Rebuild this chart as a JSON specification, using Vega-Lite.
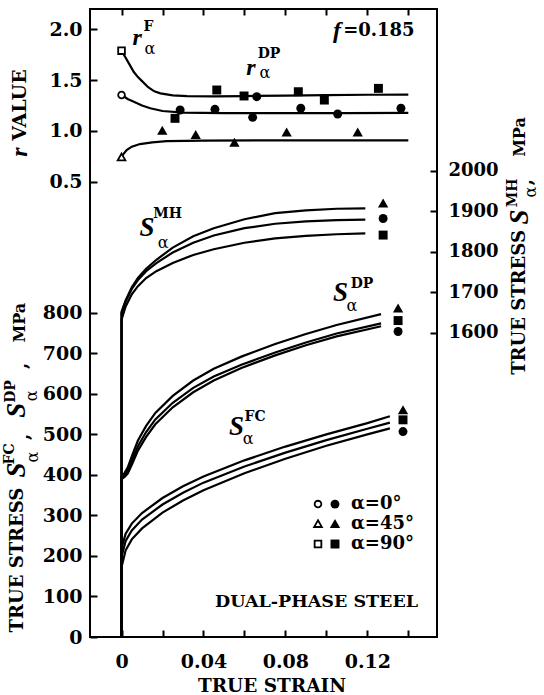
{
  "$schema": "https://vega.github.io/schema/vega-lite/v6.json",
  "autosize": {"type": "none"},
  "width": 347,
  "height": 628,
  "padding": {"left": 90, "top": 9, "right": 107, "bottom": 58},
  "background": "white",
  "config": {
    "view": {"stroke": "black", "strokeWidth": 2},
    "axis": {"domain": false, "grid": false, "ticks": true, "tickColor": "black", "tickWidth": 2, "tickSize": -7,
      "labelFont": "DejaVu Serif", "labelFontSize": 19, "labelFontWeight": "bold", "labelColor": "black", "labelPadding": 15},
    "text": {"font": "DejaVu Serif", "fontWeight": "bold", "fontSize": 18, "color": "black"}
  },
  "datasets": {
    "rcurve": [
      {"curve": "90", "strain": 0, "r": 1.79}, {"curve": "90", "strain": 0.002, "r": 1.72}, {"curve": "90", "strain": 0.004, "r": 1.65},
      {"curve": "90", "strain": 0.006, "r": 1.58}, {"curve": "90", "strain": 0.008, "r": 1.53}, {"curve": "90", "strain": 0.01, "r": 1.49},
      {"curve": "90", "strain": 0.013, "r": 1.43}, {"curve": "90", "strain": 0.016, "r": 1.39}, {"curve": "90", "strain": 0.019, "r": 1.37},
      {"curve": "90", "strain": 0.025, "r": 1.35}, {"curve": "90", "strain": 0.032, "r": 1.342}, {"curve": "90", "strain": 0.045, "r": 1.34},
      {"curve": "90", "strain": 0.06, "r": 1.343}, {"curve": "90", "strain": 0.08, "r": 1.348}, {"curve": "90", "strain": 0.1, "r": 1.352},
      {"curve": "90", "strain": 0.12, "r": 1.356}, {"curve": "90", "strain": 0.14, "r": 1.358},
      {"curve": "0", "strain": 0, "r": 1.354}, {"curve": "0", "strain": 0.003, "r": 1.315}, {"curve": "0", "strain": 0.006, "r": 1.288},
      {"curve": "0", "strain": 0.01, "r": 1.25}, {"curve": "0", "strain": 0.014, "r": 1.223}, {"curve": "0", "strain": 0.02, "r": 1.196},
      {"curve": "0", "strain": 0.03, "r": 1.18}, {"curve": "0", "strain": 0.05, "r": 1.175}, {"curve": "0", "strain": 0.08, "r": 1.175},
      {"curve": "0", "strain": 0.11, "r": 1.176}, {"curve": "0", "strain": 0.14, "r": 1.177},
      {"curve": "45", "strain": 0, "r": 0.74}, {"curve": "45", "strain": 0.001, "r": 0.775}, {"curve": "45", "strain": 0.0025, "r": 0.812},
      {"curve": "45", "strain": 0.005, "r": 0.845}, {"curve": "45", "strain": 0.009, "r": 0.871}, {"curve": "45", "strain": 0.015, "r": 0.888},
      {"curve": "45", "strain": 0.022, "r": 0.899}, {"curve": "45", "strain": 0.04, "r": 0.905}, {"curve": "45", "strain": 0.08, "r": 0.907},
      {"curve": "45", "strain": 0.14, "r": 0.908}
    ],
    "ropen": [
      {"alpha": "90", "strain": 0, "r": 1.79}, {"alpha": "0", "strain": 0, "r": 1.354}, {"alpha": "45", "strain": 0, "r": 0.74}
    ],
    "rpts": [
      {"alpha": "90", "strain": 0.0261, "r": 1.124}, {"alpha": "90", "strain": 0.0465, "r": 1.403}, {"alpha": "90", "strain": 0.0598, "r": 1.344},
      {"alpha": "90", "strain": 0.0863, "r": 1.386}, {"alpha": "90", "strain": 0.099, "r": 1.304}, {"alpha": "90", "strain": 0.1254, "r": 1.419},
      {"alpha": "0", "strain": 0.0286, "r": 1.206}, {"alpha": "0", "strain": 0.0456, "r": 1.213}, {"alpha": "0", "strain": 0.064, "r": 1.134},
      {"alpha": "0", "strain": 0.066, "r": 1.337}, {"alpha": "0", "strain": 0.0875, "r": 1.223}, {"alpha": "0", "strain": 0.1055, "r": 1.167},
      {"alpha": "0", "strain": 0.1364, "r": 1.223},
      {"alpha": "45", "strain": 0.0199, "r": 1.002}, {"alpha": "45", "strain": 0.0362, "r": 0.96}, {"alpha": "45", "strain": 0.0551, "r": 0.884},
      {"alpha": "45", "strain": 0.0806, "r": 0.986}, {"alpha": "45", "strain": 0.1153, "r": 0.986}
    ],
    "scurve": [
      {"curve": "FC45", "strain": 0, "stress": 0}, {"curve": "FC45", "strain": 0, "stress": 219}, {"curve": "FC45", "strain": 0.002, "stress": 255},
      {"curve": "FC45", "strain": 0.005, "stress": 280}, {"curve": "FC45", "strain": 0.01, "stress": 306}, {"curve": "FC45", "strain": 0.02, "stress": 343},
      {"curve": "FC45", "strain": 0.03, "stress": 372}, {"curve": "FC45", "strain": 0.04, "stress": 396}, {"curve": "FC45", "strain": 0.06, "stress": 436},
      {"curve": "FC45", "strain": 0.08, "stress": 470}, {"curve": "FC45", "strain": 0.1, "stress": 500}, {"curve": "FC45", "strain": 0.12, "stress": 528},
      {"curve": "FC45", "strain": 0.131, "stress": 545},
      {"curve": "FC90", "strain": 0, "stress": 0}, {"curve": "FC90", "strain": 0, "stress": 198}, {"curve": "FC90", "strain": 0.002, "stress": 237},
      {"curve": "FC90", "strain": 0.005, "stress": 263}, {"curve": "FC90", "strain": 0.01, "stress": 290}, {"curve": "FC90", "strain": 0.02, "stress": 327},
      {"curve": "FC90", "strain": 0.03, "stress": 356}, {"curve": "FC90", "strain": 0.04, "stress": 381}, {"curve": "FC90", "strain": 0.06, "stress": 421},
      {"curve": "FC90", "strain": 0.08, "stress": 455}, {"curve": "FC90", "strain": 0.1, "stress": 486}, {"curve": "FC90", "strain": 0.12, "stress": 514},
      {"curve": "FC90", "strain": 0.131, "stress": 529},
      {"curve": "FC0", "strain": 0, "stress": 0}, {"curve": "FC0", "strain": 0, "stress": 173}, {"curve": "FC0", "strain": 0.002, "stress": 214},
      {"curve": "FC0", "strain": 0.005, "stress": 241}, {"curve": "FC0", "strain": 0.01, "stress": 268}, {"curve": "FC0", "strain": 0.02, "stress": 307},
      {"curve": "FC0", "strain": 0.03, "stress": 337}, {"curve": "FC0", "strain": 0.04, "stress": 362}, {"curve": "FC0", "strain": 0.06, "stress": 404},
      {"curve": "FC0", "strain": 0.08, "stress": 440}, {"curve": "FC0", "strain": 0.1, "stress": 472}, {"curve": "FC0", "strain": 0.12, "stress": 500},
      {"curve": "FC0", "strain": 0.131, "stress": 515},
      {"curve": "DP45", "strain": 0, "stress": 0}, {"curve": "DP45", "strain": 0, "stress": 395}, {"curve": "DP45", "strain": 0.0015, "stress": 405},
      {"curve": "DP45", "strain": 0.003, "stress": 418}, {"curve": "DP45", "strain": 0.005, "stress": 446}, {"curve": "DP45", "strain": 0.008, "stress": 485},
      {"curve": "DP45", "strain": 0.012, "stress": 521}, {"curve": "DP45", "strain": 0.0165, "stress": 553}, {"curve": "DP45", "strain": 0.025, "stress": 595},
      {"curve": "DP45", "strain": 0.035, "stress": 633}, {"curve": "DP45", "strain": 0.045, "stress": 662}, {"curve": "DP45", "strain": 0.0585, "stress": 692},
      {"curve": "DP45", "strain": 0.075, "stress": 723}, {"curve": "DP45", "strain": 0.09, "stress": 748}, {"curve": "DP45", "strain": 0.105, "stress": 770},
      {"curve": "DP45", "strain": 0.1267, "stress": 797},
      {"curve": "DP90", "strain": 0, "stress": 0}, {"curve": "DP90", "strain": 0, "stress": 393}, {"curve": "DP90", "strain": 0.0015, "stress": 400},
      {"curve": "DP90", "strain": 0.003, "stress": 410}, {"curve": "DP90", "strain": 0.005, "stress": 435}, {"curve": "DP90", "strain": 0.008, "stress": 471},
      {"curve": "DP90", "strain": 0.012, "stress": 506}, {"curve": "DP90", "strain": 0.0165, "stress": 537}, {"curve": "DP90", "strain": 0.025, "stress": 578},
      {"curve": "DP90", "strain": 0.035, "stress": 615}, {"curve": "DP90", "strain": 0.045, "stress": 643}, {"curve": "DP90", "strain": 0.0585, "stress": 672},
      {"curve": "DP90", "strain": 0.075, "stress": 702}, {"curve": "DP90", "strain": 0.09, "stress": 727}, {"curve": "DP90", "strain": 0.105, "stress": 749},
      {"curve": "DP90", "strain": 0.1267, "stress": 774},
      {"curve": "DP0", "strain": 0, "stress": 0}, {"curve": "DP0", "strain": 0, "stress": 390}, {"curve": "DP0", "strain": 0.0015, "stress": 395},
      {"curve": "DP0", "strain": 0.003, "stress": 403}, {"curve": "DP0", "strain": 0.005, "stress": 425}, {"curve": "DP0", "strain": 0.008, "stress": 460},
      {"curve": "DP0", "strain": 0.012, "stress": 494}, {"curve": "DP0", "strain": 0.0165, "stress": 525}, {"curve": "DP0", "strain": 0.025, "stress": 567},
      {"curve": "DP0", "strain": 0.035, "stress": 604}, {"curve": "DP0", "strain": 0.045, "stress": 633}, {"curve": "DP0", "strain": 0.0585, "stress": 664},
      {"curve": "DP0", "strain": 0.075, "stress": 695}, {"curve": "DP0", "strain": 0.09, "stress": 720}, {"curve": "DP0", "strain": 0.105, "stress": 742},
      {"curve": "DP0", "strain": 0.1267, "stress": 767}
    ],
    "spts": [
      {"alpha": "45", "strain": 0.1374, "stress": 560}, {"alpha": "90", "strain": 0.1374, "stress": 536}, {"alpha": "0", "strain": 0.1374, "stress": 507},
      {"alpha": "45", "strain": 0.135, "stress": 811}, {"alpha": "90", "strain": 0.135, "stress": 781}, {"alpha": "0", "strain": 0.135, "stress": 754}
    ],
    "mhcurve": [
      {"curve": "MH45", "strain": 0, "mh": 850}, {"curve": "MH45", "strain": 0, "mh": 1652}, {"curve": "MH45", "strain": 0.002, "mh": 1680},
      {"curve": "MH45", "strain": 0.005, "mh": 1712}, {"curve": "MH45", "strain": 0.008, "mh": 1735}, {"curve": "MH45", "strain": 0.012, "mh": 1758},
      {"curve": "MH45", "strain": 0.017, "mh": 1780}, {"curve": "MH45", "strain": 0.025, "mh": 1810}, {"curve": "MH45", "strain": 0.035, "mh": 1838},
      {"curve": "MH45", "strain": 0.045, "mh": 1858}, {"curve": "MH45", "strain": 0.06, "mh": 1880}, {"curve": "MH45", "strain": 0.075, "mh": 1895},
      {"curve": "MH45", "strain": 0.09, "mh": 1902}, {"curve": "MH45", "strain": 0.105, "mh": 1906}, {"curve": "MH45", "strain": 0.119, "mh": 1907},
      {"curve": "MH0", "strain": 0, "mh": 850}, {"curve": "MH0", "strain": 0, "mh": 1648}, {"curve": "MH0", "strain": 0.002, "mh": 1677},
      {"curve": "MH0", "strain": 0.005, "mh": 1708}, {"curve": "MH0", "strain": 0.008, "mh": 1730}, {"curve": "MH0", "strain": 0.012, "mh": 1752},
      {"curve": "MH0", "strain": 0.017, "mh": 1772}, {"curve": "MH0", "strain": 0.025, "mh": 1798}, {"curve": "MH0", "strain": 0.035, "mh": 1822},
      {"curve": "MH0", "strain": 0.045, "mh": 1840}, {"curve": "MH0", "strain": 0.06, "mh": 1858}, {"curve": "MH0", "strain": 0.075, "mh": 1869},
      {"curve": "MH0", "strain": 0.09, "mh": 1875}, {"curve": "MH0", "strain": 0.105, "mh": 1878}, {"curve": "MH0", "strain": 0.119, "mh": 1879},
      {"curve": "MH90", "strain": 0, "mh": 850}, {"curve": "MH90", "strain": 0, "mh": 1632}, {"curve": "MH90", "strain": 0.002, "mh": 1665},
      {"curve": "MH90", "strain": 0.005, "mh": 1695}, {"curve": "MH90", "strain": 0.008, "mh": 1715}, {"curve": "MH90", "strain": 0.012, "mh": 1735},
      {"curve": "MH90", "strain": 0.017, "mh": 1752}, {"curve": "MH90", "strain": 0.025, "mh": 1772}, {"curve": "MH90", "strain": 0.035, "mh": 1792},
      {"curve": "MH90", "strain": 0.045, "mh": 1806}, {"curve": "MH90", "strain": 0.06, "mh": 1822}, {"curve": "MH90", "strain": 0.075, "mh": 1833},
      {"curve": "MH90", "strain": 0.09, "mh": 1839}, {"curve": "MH90", "strain": 0.105, "mh": 1843}, {"curve": "MH90", "strain": 0.119, "mh": 1845}
    ],
    "mhpts": [
      {"alpha": "45", "strain": 0.1277, "mh": 1919}, {"alpha": "0", "strain": 0.1277, "mh": 1882}, {"alpha": "90", "strain": 0.1277, "mh": 1841}
    ],
    "legendpts": [
      {"alpha": "0", "strain": 0.0959, "stress": 328, "kind": "open"}, {"alpha": "0", "strain": 0.1042, "stress": 328, "kind": "filled"},
      {"alpha": "45", "strain": 0.0959, "stress": 279, "kind": "open"}, {"alpha": "45", "strain": 0.1042, "stress": 279, "kind": "filled"},
      {"alpha": "90", "strain": 0.0959, "stress": 229.5, "kind": "open"}, {"alpha": "90", "strain": 0.1042, "stress": 229.5, "kind": "filled"}
    ]
  },
  "layer": [
    {
      "encoding": {
        "x": {"field": "strain", "type": "quantitative", "scale": {"domain": [-0.0154, 0.154], "nice": false, "zero": false},
          "axis": {"orient": "top", "values": [0, 0.02, 0.04, 0.06, 0.08, 0.1, 0.12, 0.14], "labels": false, "title": null, "tickSize": -6}},
        "y": {"field": "r", "type": "quantitative", "scale": {"domain": [-3.98, 2.2], "nice": false, "zero": false},
          "axis": {"orient": "left", "values": [0.5, 1, 1.5, 2], "format": ".1f", "title": null}}
      },
      "layer": [
        {"data": {"name": "rcurve"}, "mark": {"type": "line", "color": "black", "strokeWidth": 2.2}, "encoding": {"detail": {"field": "curve"}, "order": {"value": null}}},
        {"data": {"name": "ropen"}, "mark": {"type": "point", "filled": false, "fill": "white", "color": "black", "strokeWidth": 1.8, "size": 45, "opacity": 1},
          "encoding": {"shape": {"field": "alpha", "type": "nominal", "scale": {"domain": ["0", "45", "90"], "range": ["circle", "M0,-1.1L1.15,0.9L-1.15,0.9Z", "square"]}, "legend": null}}},
        {"data": {"name": "rpts"}, "mark": {"type": "point", "filled": true, "color": "black", "size": 80, "opacity": 1},
          "encoding": {"shape": {"field": "alpha", "type": "nominal", "scale": {"domain": ["0", "45", "90"], "range": ["circle", "M0,-1.1L1.15,0.9L-1.15,0.9Z", "square"]}, "legend": null}}},
        {"data": {"values": [{"strain": 0.0076, "r": 1.915, "t": "r"}, {"strain": 0.0632, "r": 1.619, "t": "r"}, {"strain": 0.1052, "r": 1.979, "t": "f"}]},
          "mark": {"type": "text", "font": "Liberation Serif", "fontStyle": "italic", "fontSize": 24, "baseline": "middle"}, "encoding": {"text": {"field": "t"}}},
        {"data": {"values": [{"strain": 0.0132, "r": 2.018, "t": "F"}, {"strain": 0.072, "r": 1.757, "t": "DP"}]},
          "mark": {"type": "text", "fontSize": 14, "baseline": "middle"}, "encoding": {"text": {"field": "t"}}},
        {"data": {"values": [{"strain": 0.0139, "r": 1.806, "t": "α"}, {"strain": 0.07, "r": 1.57, "t": "α"}]},
          "mark": {"type": "text", "fontWeight": "normal", "fontSize": 16, "baseline": "middle"}, "encoding": {"text": {"field": "t"}}},
        {"data": {"values": [{"strain": 0.1082, "r": 1.979, "t": "=0.185"}]},
          "mark": {"type": "text", "fontSize": 18, "align": "left", "baseline": "middle"}, "encoding": {"text": {"field": "t"}}},
        {"data": {"values": [{"strain": -0.0496, "r": 1.255, "t": "VALUE"}]},
          "mark": {"type": "text", "fontSize": 19, "angle": 270, "baseline": "middle"}, "encoding": {"text": {"field": "t"}}},
        {"data": {"values": [{"strain": -0.0496, "r": 0.792, "t": "r"}]},
          "mark": {"type": "text", "font": "Liberation Serif", "fontStyle": "italic", "fontSize": 24, "angle": 270, "baseline": "middle"}, "encoding": {"text": {"field": "t"}}}
      ]
    },
    {
      "encoding": {
        "x": {"field": "strain", "type": "quantitative", "scale": {"domain": [-0.0154, 0.154], "nice": false, "zero": false},
          "axis": {"orient": "bottom", "values": [0, 0.02, 0.04, 0.06, 0.08, 0.1, 0.12, 0.14], "tickSize": -7, "labelPadding": 22,
            "labelExpr": "(round(datum.value*50) % 2 == 0 && datum.value < 0.13) ? (datum.value == 0 ? '0' : format(datum.value, '.2f')) : ''",
            "title": "TRUE STRAIN", "titleFont": "DejaVu Serif", "titleFontSize": 18.5, "titleFontWeight": "bold", "titleColor": "black",
            "titleX": 181.5, "titleY": 48, "titleBaseline": "middle", "titleAlign": "center"}},
        "y": {"field": "stress", "type": "quantitative", "scale": {"domain": [0, 1550], "nice": false, "zero": false},
          "axis": {"orient": "left", "values": [0, 100, 200, 300, 400, 500, 600, 700, 800], "title": null}}
      },
      "layer": [
        {"data": {"name": "scurve"}, "mark": {"type": "line", "color": "black", "strokeWidth": 2.2}, "encoding": {"detail": {"field": "curve"}, "order": {"value": null}}},
        {"data": {"name": "spts"}, "mark": {"type": "point", "filled": true, "color": "black", "size": 80, "opacity": 1},
          "encoding": {"shape": {"field": "alpha", "type": "nominal", "scale": {"domain": ["0", "45", "90"], "range": ["circle", "M0,-1.1L1.15,0.9L-1.15,0.9Z", "square"]}, "legend": null}}},
        {"data": {"name": "legendpts"}, "transform": [{"filter": "datum.kind == 'open'"}], "mark": {"type": "point", "filled": false, "color": "black", "strokeWidth": 1.8, "size": 45, "opacity": 1},
          "encoding": {"shape": {"field": "alpha", "type": "nominal", "scale": {"domain": ["0", "45", "90"], "range": ["circle", "M0,-1.1L1.15,0.9L-1.15,0.9Z", "square"]}, "legend": null}}},
        {"data": {"name": "legendpts"}, "transform": [{"filter": "datum.kind == 'filled'"}], "mark": {"type": "point", "filled": true, "color": "black", "size": 80, "opacity": 1},
          "encoding": {"shape": {"field": "alpha", "type": "nominal", "scale": {"domain": ["0", "45", "90"], "range": ["circle", "M0,-1.1L1.15,0.9L-1.15,0.9Z", "square"]}, "legend": null}}},
        {"data": {"values": [{"strain": 0.112, "stress": 328, "t": "α=0°"}, {"strain": 0.112, "stress": 279, "t": "α=45°"}, {"strain": 0.112, "stress": 229.5, "t": "α=90°"}]},
          "mark": {"type": "text", "fontSize": 18, "align": "left", "baseline": "middle"}, "encoding": {"text": {"field": "t"}}},
        {"data": {"values": [{"strain": 0.0952, "stress": 87.6, "t": "DUAL-PHASE STEEL"}]},
          "mark": {"type": "text", "fontSize": 17.5, "baseline": "middle"}, "encoding": {"text": {"field": "t"}}},
        {"data": {"values": [{"strain": 0.0561, "stress": 518, "t": "S"}, {"strain": 0.1069, "stress": 849, "t": "S"}]},
          "mark": {"type": "text", "font": "Liberation Serif", "fontStyle": "italic", "fontSize": 27, "baseline": "middle"}, "encoding": {"text": {"field": "t"}}},
        {"data": {"values": [{"strain": 0.0652, "stress": 544, "t": "FC"}, {"strain": 0.1174, "stress": 872, "t": "DP"}]},
          "mark": {"type": "text", "fontSize": 14, "baseline": "middle"}, "encoding": {"text": {"field": "t"}}},
        {"data": {"values": [{"strain": 0.0618, "stress": 488, "t": "α"}, {"strain": 0.1125, "stress": 816, "t": "α"}]},
          "mark": {"type": "text", "fontWeight": "normal", "fontSize": 16, "baseline": "middle"}, "encoding": {"text": {"field": "t"}}},
        {"data": {"values": [{"strain": -0.0505, "stress": 190, "t": "TRUE STRESS"}, {"strain": -0.0476, "stress": 494, "t": ","}, {"strain": -0.0486, "stress": 669, "t": ","}]},
          "mark": {"type": "text", "fontSize": 18, "angle": 270, "baseline": "middle"}, "encoding": {"text": {"field": "t"}}},
        {"data": {"values": [{"strain": -0.0498, "stress": 776, "t": "MPa"}]},
          "mark": {"type": "text", "fontSize": 16, "angle": 270, "baseline": "middle"}, "encoding": {"text": {"field": "t"}}},
        {"data": {"values": [{"strain": -0.051, "stress": 412, "t": "S"}, {"strain": -0.051, "stress": 560, "t": "S"}]},
          "mark": {"type": "text", "font": "Liberation Serif", "fontStyle": "italic", "fontSize": 27, "angle": 270, "baseline": "middle"}, "encoding": {"text": {"field": "t"}}},
        {"data": {"values": [{"strain": -0.0544, "stress": 452, "t": "FC"}, {"strain": -0.054, "stress": 606, "t": "DP"}]},
          "mark": {"type": "text", "fontSize": 14, "angle": 270, "baseline": "middle"}, "encoding": {"text": {"field": "t"}}},
        {"data": {"values": [{"strain": -0.0432, "stress": 444, "t": "α"}, {"strain": -0.0439, "stress": 595, "t": "α"}]},
          "mark": {"type": "text", "fontWeight": "normal", "fontSize": 16, "angle": 270, "baseline": "middle"}, "encoding": {"text": {"field": "t"}}}
      ]
    },
    {
      "encoding": {
        "x": {"field": "strain", "type": "quantitative", "scale": {"domain": [-0.0154, 0.154], "nice": false, "zero": false}, "axis": null},
        "y": {"field": "mh", "type": "quantitative", "scale": {"domain": [849, 2399], "nice": false, "zero": false},
          "axis": {"orient": "right", "values": [1600, 1700, 1800, 1900, 2000], "format": "d", "title": null, "labelPadding": 18, "labelFontSize": 18}}
      },
      "layer": [
        {"data": {"name": "mhcurve"}, "mark": {"type": "line", "color": "black", "strokeWidth": 2.2}, "encoding": {"detail": {"field": "curve"}, "order": {"value": null}}},
        {"data": {"name": "mhpts"}, "mark": {"type": "point", "filled": true, "color": "black", "size": 80, "opacity": 1},
          "encoding": {"shape": {"field": "alpha", "type": "nominal", "scale": {"domain": ["0", "45", "90"], "range": ["circle", "M0,-1.1L1.15,0.9L-1.15,0.9Z", "square"]}, "legend": null}}},
        {"data": {"values": [{"strain": 0.01245, "mh": 1858.5, "t": "S"}]},
          "mark": {"type": "text", "font": "Liberation Serif", "fontStyle": "italic", "fontSize": 27, "baseline": "middle"}, "encoding": {"text": {"field": "t"}}},
        {"data": {"values": [{"strain": 0.02246, "mh": 1893, "t": "MH"}]},
          "mark": {"type": "text", "fontSize": 14, "baseline": "middle"}, "encoding": {"text": {"field": "t"}}},
        {"data": {"values": [{"strain": 0.0203, "mh": 1821.5, "t": "α"}]},
          "mark": {"type": "text", "fontWeight": "normal", "fontSize": 16, "baseline": "middle"}, "encoding": {"text": {"field": "t"}}},
        {"data": {"values": [{"strain": 0.1945, "mh": 1674.7, "t": "TRUE STRESS"}, {"strain": 0.198, "mh": 1972, "t": ","}]},
          "mark": {"type": "text", "fontSize": 18, "angle": 270, "baseline": "middle"}, "encoding": {"text": {"field": "t"}}},
        {"data": {"values": [{"strain": 0.1945, "mh": 2083, "t": "MPa"}]},
          "mark": {"type": "text", "fontSize": 16, "angle": 270, "baseline": "middle"}, "encoding": {"text": {"field": "t"}}},
        {"data": {"values": [{"strain": 0.1945, "mh": 1885.7, "t": "S"}]},
          "mark": {"type": "text", "font": "Liberation Serif", "fontStyle": "italic", "fontSize": 27, "angle": 270, "baseline": "middle"}, "encoding": {"text": {"field": "t"}}},
        {"data": {"values": [{"strain": 0.1911, "mh": 1945, "t": "MH"}]},
          "mark": {"type": "text", "fontSize": 14, "angle": 270, "baseline": "middle"}, "encoding": {"text": {"field": "t"}}},
        {"data": {"values": [{"strain": 0.1999, "mh": 1947, "t": "α"}]},
          "mark": {"type": "text", "fontWeight": "normal", "fontSize": 16, "angle": 270, "baseline": "middle"}, "encoding": {"text": {"field": "t"}}}
      ]
    }
  ],
  "resolve": {"scale": {"x": "independent", "y": "independent"}, "axis": {"x": "independent", "y": "independent"}}
}
